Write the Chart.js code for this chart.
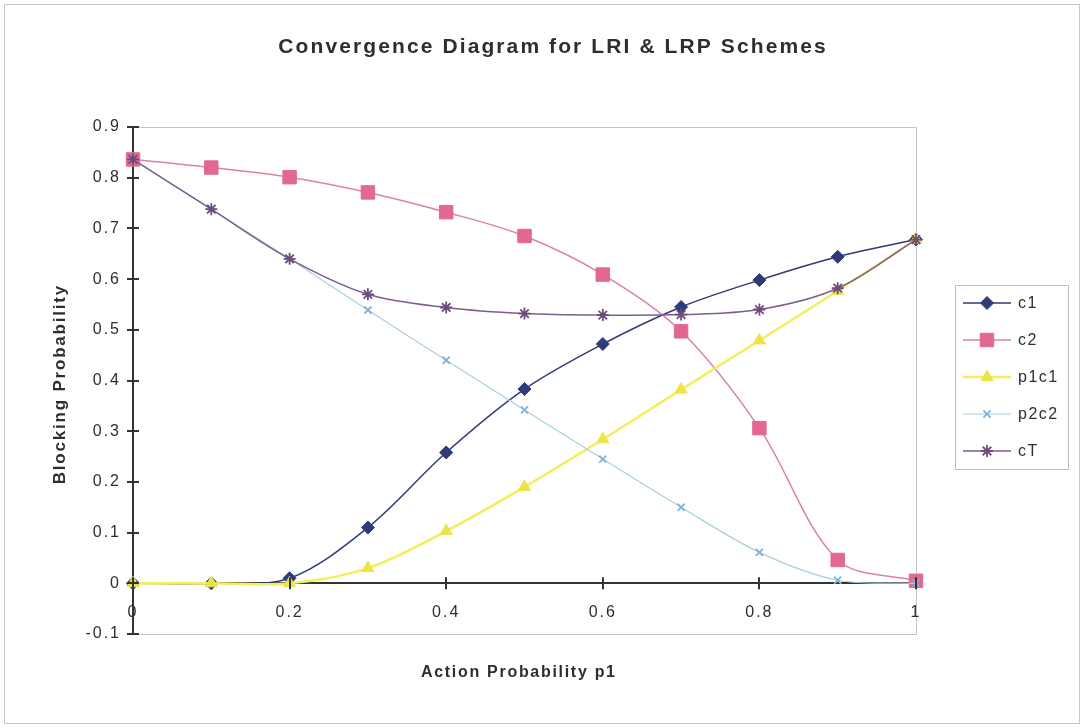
<!DOCTYPE html>
<html>
<head>
<meta charset="utf-8">
<script src="https://cdn.jsdelivr.net/npm/chart.js@4/dist/chart.umd.min.js"></script>
<style>
  html, body { margin: 0; padding: 0; background: #fff; }
  #wrap { width: 1084px; height: 728px; position: relative; }
</style>
</head>
<body>
<div id="wrap"><canvas id="c"></canvas></div>
<script>
// Action probability p1 (x values)
const p1Values = [0, 0.1, 0.2, 0.3, 0.4, 0.5, 0.6, 0.7, 0.8, 0.9, 1.0];
// Blocking probabilities per series
const c1   = [0, 0, 0.01, 0.11, 0.258, 0.383, 0.472, 0.545, 0.598, 0.644, 0.678];
const c2   = [0.836, 0.82, 0.801, 0.771, 0.732, 0.685, 0.609, 0.497, 0.306, 0.046, 0.005];
const p1c1 = [0, 0, 0, 0.03, 0.103, 0.19, 0.284, 0.382, 0.479, 0.577, 0.678];
const p2c2 = [0.836, 0.738, 0.64, 0.539, 0.44, 0.342, 0.245, 0.15, 0.061, 0.006, 0];
const cT   = [0.836, 0.738, 0.64, 0.57, 0.544, 0.532, 0.529, 0.53, 0.54, 0.582, 0.678];

const seriesNames = ['c1', 'c2', 'p1c1', 'p2c2', 'cT'];
const chartTitle = 'Convergence Diagram for LRI & LRP Schemes';
const xTitle = 'Action Probability p1';
const yTitle = 'Blocking Probability';

const FONT = '"Liberation Sans", Arial, sans-serif';
const TEXT = '#2e2e2e';
const toPoints = ys => p1Values.map((x, i) => ({ x: x, y: ys[i] }));

const styles = [
  { line: '#2f3a78', fill: '#2f3a78', shape: 'rectRot', r: 6.5, lw: 1.5 },
  { line: '#d982aa', fill: '#e2688f', shape: 'rect', r: 9.5, lw: 1.5 },
  { line: '#f3ef5a', fill: '#ece44a', shape: 'triangle', r: 7, lw: 2.5 },
  { line: '#a9cfe2', fill: '#7fb2d6', shape: 'crossRot', r: 5, lw: 1.2 },
  { line: '#7d5d8c', fill: '#6c4c7c', shape: 'star', r: 6, lw: 1.5 }
];
const seriesData = [c1, c2, p1c1, p2c2, cT];

const datasets = seriesNames.map((name, i) => ({
  label: name,
  data: toPoints(seriesData[i]),
  borderColor: styles[i].line,
  backgroundColor: styles[i].fill,
  pointBackgroundColor: styles[i].fill,
  pointBorderColor: styles[i].fill,
  pointStyle: styles[i].shape,
  pointRadius: styles[i].r,
  pointBorderWidth: (styles[i].shape === 'crossRot' || styles[i].shape === 'star') ? 1.8 : 1,
  borderWidth: styles[i].lw,
  tension: 0.33,
  fill: false,
  clip: false,
  order: seriesNames.length - i
}));

// Frame, titles, cross tick marks and the legend box
const decorations = {
  id: 'decorations',
  beforeDraw(chart) {
    const ctx = chart.ctx;
    ctx.save();
    ctx.fillStyle = '#fff';
    ctx.fillRect(0, 0, chart.width, chart.height);
    ctx.strokeStyle = '#c8c8c8';
    ctx.lineWidth = 1;
    ctx.strokeRect(4.5, 4.5, chart.width - 9, chart.height - 9);
    const a = chart.chartArea;
    ctx.strokeStyle = '#c4c4c4';
    ctx.strokeRect(Math.round(a.left) + 0.5, Math.round(a.top) + 0.5,
                   Math.round(a.right - a.left), Math.round(a.bottom - a.top));
    ctx.restore();
    // slightly tracked lettering for the tick labels
    ctx.letterSpacing = '2px';
  },
  afterDraw(chart) {
    const ctx = chart.ctx;
    const xs = chart.scales.x, ys = chart.scales.y;
    ctx.save();
    // cross tick marks
    ctx.strokeStyle = '#333';
    ctx.lineWidth = 2;
    const x0 = xs.getPixelForValue(0), y0 = ys.getPixelForValue(0);
    ys.ticks.forEach(t => {
      const py = Math.round(ys.getPixelForValue(t.value));
      ctx.beginPath(); ctx.moveTo(x0 - 6, py); ctx.lineTo(x0 + 6, py); ctx.stroke();
    });
    xs.ticks.forEach(t => {
      const px = Math.round(xs.getPixelForValue(t.value));
      ctx.beginPath(); ctx.moveTo(px, y0 - 6); ctx.lineTo(px, y0 + 6); ctx.stroke();
    });
    // titles
    ctx.fillStyle = TEXT;
    ctx.textAlign = 'left';
    ctx.textBaseline = 'middle';
    const centered = (txt, cx, cy, font, ls) => {
      ctx.font = font;
      ctx.letterSpacing = ls + 'px';
      const w = ctx.measureText(txt).width - ls;
      ctx.fillText(txt, cx - w / 2, cy);
    };
    centered(chartTitle, 552, 47, 'bold 21px ' + FONT, 2.1);
    centered(xTitle, 518, 673, 'bold 16px ' + FONT, 1.7);
    ctx.save();
    ctx.translate(60, 385);
    ctx.rotate(-Math.PI / 2);
    centered(yTitle, 0, 0, 'bold 17px ' + FONT, 1.8);
    ctx.restore();
    // legend
    const lx = 955, ly = 285, lw = 113, lh = 184;
    ctx.strokeStyle = '#bdbdbd';
    ctx.lineWidth = 1;
    ctx.strokeRect(lx + 0.5, ly + 0.5, lw, lh);
    ctx.font = '16px ' + FONT;
    ctx.letterSpacing = '1.5px';
    ctx.textAlign = 'left';
    chart.data.datasets.forEach((ds, i) => {
      const cy = 303 + i * 37;
      ctx.strokeStyle = ds.borderColor;
      ctx.lineWidth = ds.borderWidth;
      ctx.beginPath(); ctx.moveTo(963, cy); ctx.lineTo(1011, cy); ctx.stroke();
      ctx.fillStyle = ds.pointBackgroundColor;
      ctx.strokeStyle = ds.pointBorderColor;
      ctx.lineWidth = ds.pointBorderWidth;
      Chart.helpers.drawPoint(ctx, { pointStyle: ds.pointStyle, radius: ds.pointRadius, borderWidth: ds.pointBorderWidth, rotation: 0 }, 987, cy);
      ctx.fillStyle = TEXT;
      ctx.fillText(ds.label, 1018, cy + 1);
    });
    ctx.restore();
  }
};

new Chart(document.getElementById('c'), {
  type: 'line',
  data: { datasets: datasets },
  plugins: [decorations],
  options: {
    responsive: true,
    maintainAspectRatio: false,
    animation: false,
    layout: { padding: { left: 63, top: 127, right: 168, bottom: 94 } },
    plugins: { legend: { display: false }, title: { display: false }, tooltip: { enabled: false } },
    scales: {
      x: {
        type: 'linear',
        min: 0, max: 1,
        position: { y: 0 },
        clip: false,
        grid: { display: false, drawTicks: false },
        border: { display: true, color: '#333', width: 2 },
        ticks: { stepSize: 0.2, padding: 20, color: TEXT, font: { family: FONT, size: 16 },
                 callback: v => String(Math.round(v * 10) / 10) }
      },
      y: {
        type: 'linear',
        min: -0.1, max: 0.9,
        position: 'left',
        clip: false,
        afterFit: s => { s.width = 70; },
        grid: { display: false, drawTicks: false },
        border: { display: true, color: '#333', width: 2 },
        ticks: { stepSize: 0.1, padding: 12, color: TEXT, font: { family: FONT, size: 16 },
                 callback: v => String(Math.round(v * 10) / 10) }
      }
    }
  }
});
</script>
</body>
</html>
